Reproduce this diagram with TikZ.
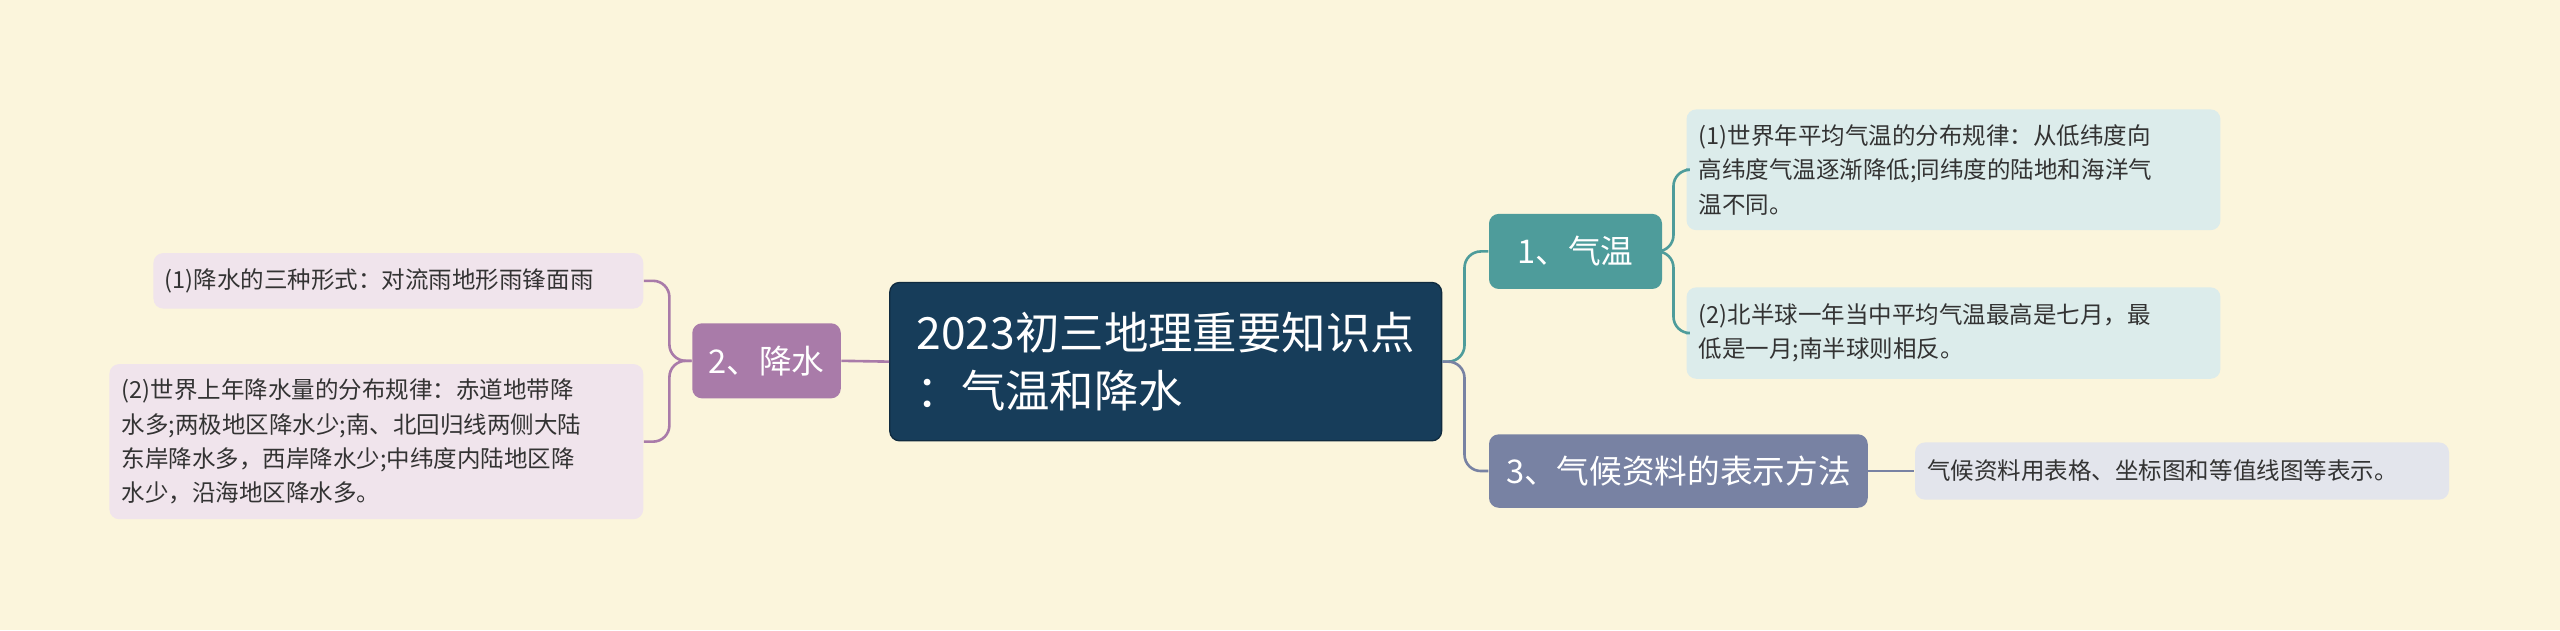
\documentclass[tikz,border=0pt]{standalone}
\usepackage{fontspec}
\setmainfont{Noto Sans CJK SC}
\begin{document}
\begin{tikzpicture}[x=0.5pt,y=-0.5pt,
  box/.style={rounded corners=3pt,inner sep=0pt,align=center,text=white},
  leaf/.style={rounded corners=3pt,inner sep=0pt,align=left,font=\fontsize{7.2}{10.5}\selectfont,text=black!80},
  ln/.style={line width=0.8pt,rounded corners=5pt}]
\definecolor{bg}{HTML}{FBF5DC}
\definecolor{cen}{HTML}{173D5A}
\definecolor{tealc}{HTML}{4E9C9B}
\definecolor{slate}{HTML}{7882A3}
\definecolor{purp}{HTML}{A97BA9}
\definecolor{tleaf}{HTML}{DCECEB}
\definecolor{sleaf}{HTML}{E3E5EC}
\definecolor{pleaf}{HTML}{F0E4EC}
\fill[bg] (0,0) rectangle (1568,386);
\useasboundingbox (0,0) rectangle (1568,386);
\node[box,fill=cen,draw=cen!70!black,minimum width=169pt,minimum height=48.5pt,align=left,font=\fontsize{13.6}{18}\selectfont] (c) at (714,221.5) {2023初三地理重要知识点\\：气温和降水};
\node[box,fill=tealc,minimum width=53pt,minimum height=23pt,font=\fontsize{10}{12}\selectfont] (b1) at (965,154) {1、气温};
\node[box,fill=slate,minimum width=116pt,minimum height=22.5pt,font=\fontsize{10}{12}\selectfont] (b3) at (1028,288.5) {3、气候资料的表示方法};
\node[box,fill=purp,minimum width=45.5pt,minimum height=23pt,font=\fontsize{10}{12}\selectfont] (b2) at (469.5,221) {2、降水};
\node[leaf,fill=tleaf,minimum width=163.5pt,minimum height=37pt,text width=156pt] (l1) at (1196.5,104) {(1)世界年平均气温的分布规律：从低纬度向\\高纬度气温逐渐降低;同纬度的陆地和海洋气\\温不同。};
\node[leaf,fill=tleaf,minimum width=163.5pt,minimum height=28pt,text width=156pt] (l2) at (1196.5,204) {(2)北半球一年当中平均气温最高是七月，最\\低是一月;南半球则相反。};
\node[leaf,fill=sleaf,minimum width=163.5pt,minimum height=17.5pt,text width=156pt] (l3) at (1336.5,288.5) {气候资料用表格、坐标图和等值线图等表示。};
\node[leaf,fill=pleaf,minimum width=150pt,minimum height=17pt,text width=143pt] (l4) at (244,172) {(1)降水的三种形式：对流雨地形雨锋面雨};
\node[leaf,fill=pleaf,minimum width=163.5pt,minimum height=47.5pt,text width=156pt] (l5) at (230.5,270.5) {(2)世界上年降水量的分布规律：赤道地带降\\水多;两极地区降水少;南、北回归线两侧大陆\\东岸降水多，西岸降水少;中纬度内陆地区降\\水少，沿海地区降水多。};
\draw[ln,tealc] (c.east) -- (897,221.5) |- (b1.west);
\draw[ln,slate] (c.east) -- (897,221.5) |- (b3.west);
\draw[ln,purp] (c.west) -- (b2.east);
\draw[ln,tealc] (b1.east) -- (1025,154) |- (l1.west);
\draw[ln,tealc] (b1.east) -- (1025,154) |- (l2.west);
\draw[ln,slate] (b3.east) -- (l3.west);
\draw[ln,purp] (b2.west) -- (410,221) |- (l4.east);
\draw[ln,purp] (b2.west) -- (410,221) |- (l5.east);
\end{tikzpicture}
\end{document}
